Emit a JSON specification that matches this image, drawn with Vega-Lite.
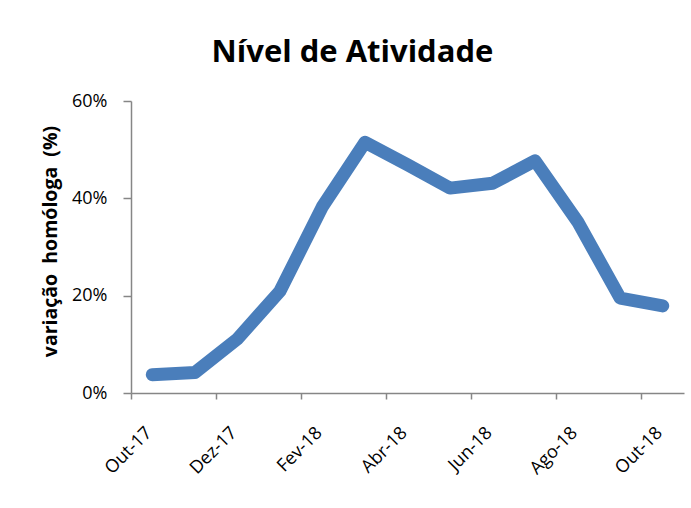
{
  "$schema": "https://vega.github.io/schema/vega-lite/v6.json",
  "width": 553,
  "height": 292,
  "autosize": "none",
  "padding": {"left": 131, "top": 101, "right": 7, "bottom": 115},
  "background": "white",
  "title": {
    "text": "Nível de Atividade",
    "font": "Open Sans",
    "fontSize": 31,
    "fontWeight": "bold",
    "color": "black",
    "anchor": "middle",
    "frame": "group",
    "dx": -55,
    "baseline": "alphabetic",
    "offset": -1
  },
  "data": {
    "values": [
      {"mes": "Out-17", "v": 0.0376},
      {"mes": "Nov-17", "v": 0.042},
      {"mes": "Dez-17", "v": 0.111},
      {"mes": "Jan-18", "v": 0.209},
      {"mes": "Fev-18", "v": 0.383},
      {"mes": "Mar-18", "v": 0.515},
      {"mes": "Abr-18", "v": 0.469},
      {"mes": "Mai-18", "v": 0.421},
      {"mes": "Jun-18", "v": 0.431},
      {"mes": "Jul-18", "v": 0.477},
      {"mes": "Ago-18", "v": 0.352},
      {"mes": "Set-18", "v": 0.195},
      {"mes": "Out-18", "v": 0.179}
    ]
  },
  "mark": {
    "type": "line",
    "color": "#4A7EBB",
    "strokeWidth": 13,
    "strokeCap": "round",
    "strokeJoin": "round"
  },
  "encoding": {
    "x": {
      "field": "mes",
      "type": "ordinal",
      "sort": null,
      "scale": {"type": "band", "paddingInner": 0, "paddingOuter": 0},
      "axis": {
        "title": null,
        "values": ["Out-17", "Dez-17", "Fev-18", "Abr-18", "Jun-18", "Ago-18", "Out-18"],
        "bandPosition": 0,
        "labelOffset": -3,
        "labelAngle": -45,
        "labelAlign": "right",
        "labelBaseline": "middle",
        "labelPadding": 31,
        "tickSize": 6,
        "labelFont": "Open Sans",
        "labelFontSize": 18,
        "labelColor": "black",
        "domainColor": "#868686",
        "tickColor": "#868686",
        "domainWidth": 1.5,
        "tickWidth": 1.5,
        "grid": false
      }
    },
    "y": {
      "field": "v",
      "type": "quantitative",
      "scale": {"domain": [0, 0.6], "nice": false},
      "axis": {
        "title": "variação\u00a0 homóloga\u00a0 (%)",
        "titleFont": "Open Sans",
        "titleFontSize": 19.5,
        "titleFontWeight": "bold",
        "titleColor": "black",
        "titleAngle": -90,
        "titleX": -75,
        "titleY": 140,
        "titleAlign": "center",
        "titleBaseline": "alphabetic",
        "values": [0, 0.2, 0.4, 0.6],
        "format": ".0%",
        "labelFont": "Open Sans",
        "labelFontSize": 18,
        "labelColor": "black",
        "labelPadding": 16,
        "tickSize": 8,
        "domainColor": "#868686",
        "tickColor": "#868686",
        "domainWidth": 1.5,
        "tickWidth": 1.5,
        "grid": false
      }
    }
  },
  "config": {"view": {"stroke": null}}
}
